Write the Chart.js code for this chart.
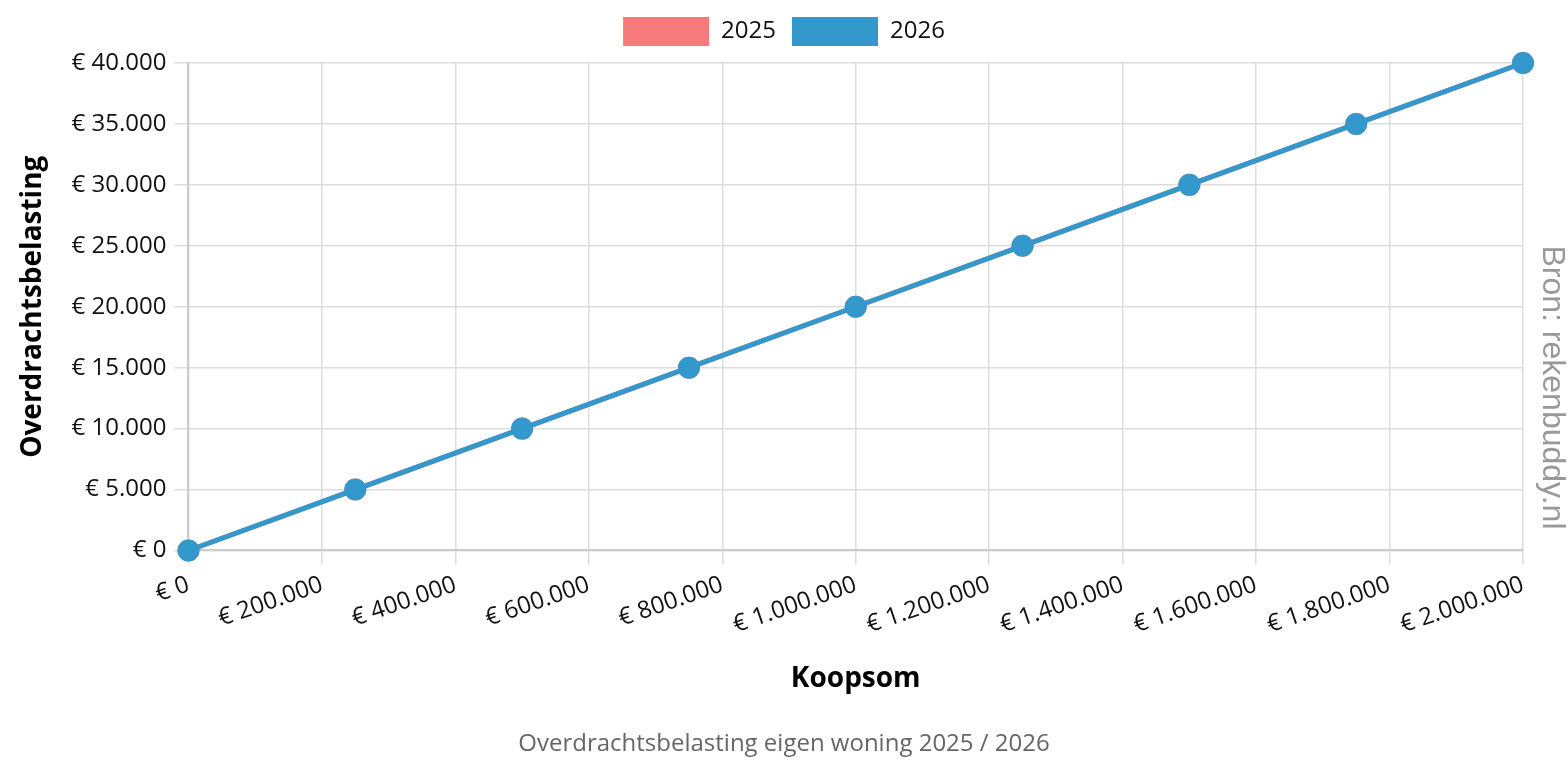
<!DOCTYPE html>
<html>
<head>
<meta charset="utf-8">
<script src="https://cdn.jsdelivr.net/npm/chart.js@4"></script>
<style>
  html, body { margin: 0; padding: 0; background: #fff; }
  canvas { display: block; }
</style>
</head>
<body>
<canvas id="chart" width="1568" height="784"></canvas>
<script>
// Koopsom (x) en overdrachtsbelasting (y) per jaar
const koopsom = [0, 250000, 500000, 750000, 1000000, 1250000, 1500000, 1750000, 2000000];
const belasting2025 = [0, 5000, 10000, 15000, 20000, 25000, 30000, 35000, 40000];
const belasting2026 = [0, 5000, 10000, 15000, 20000, 25000, 30000, 35000, 40000];
const seriesLabels = ['2025', '2026'];

const red = 'rgb(246, 122, 122)';
const blue = 'rgb(51, 153, 204)';

function euro(v) {
    let s = Math.round(v).toString().replace(/\B(?=(\d{3})+(?!\d))/g, '.');
    return '€ ' + s;
}

function toPoints(xs, ys) {
    return xs.map((x, i) => ({ x: x, y: ys[i] }));
}

// a bit more room between legend and plot
const legendMargin = {
    id: 'legendMargin',
    beforeInit(chart) {
        const fit = chart.legend.fit;
        chart.legend.fit = function () {
            fit.call(this);
            this.height += 7;
        };
    }
};

Chart.defaults.font.family = "'Open Sans', sans-serif";
Chart.defaults.font.size = 24;
Chart.defaults.color = '#111';

new Chart(document.getElementById('chart'), {
    type: 'line',
    data: {
        datasets: [{
            label: seriesLabels[0],
            data: toPoints(koopsom, belasting2025),
            borderColor: red,
            backgroundColor: red,
            borderWidth: 5,
            pointRadius: 10,
            pointHoverRadius: 10,
            pointBorderWidth: 2,
            clip: false,
            order: 1
        }, {
            label: seriesLabels[1],
            data: toPoints(koopsom, belasting2026),
            borderColor: blue,
            backgroundColor: blue,
            borderWidth: 5,
            pointRadius: 10,
            pointHoverRadius: 10,
            pointBorderWidth: 2,
            clip: false,
            order: 0
        }]
    },
    options: {
        responsive: false,
        devicePixelRatio: 1,
        animation: false,
        layout: { padding: { left: 0, right: 0, top: 1, bottom: 10 } },
        plugins: {
            legend: {
                labels: {
                    boxWidth: 86,
                    boxHeight: 29,
                    padding: 16,
                    font: { size: 24 },
                    sort: (a, b) => a.datasetIndex - b.datasetIndex,
                    generateLabels(chart) {
                        const items = Chart.defaults.plugins.legend.labels.generateLabels(chart);
                        items.forEach(it => { it.lineWidth = 0; });
                        return items;
                    }
                }
            },
            title: {
                display: true,
                text: 'Overdrachtsbelasting eigen woning 2025 / 2026',
                position: 'bottom',
                color: '#666',
                font: { size: 24, weight: 'normal' },
                padding: { top: 34, bottom: 15 }
            },
            subtitle: {
                display: true,
                text: 'Bron: rekenbuddy.nl',
                position: 'right',
                color: '#999',
                font: { family: "'Liberation Sans', Arial, sans-serif", size: 32, weight: 'normal', lineHeight: 1 },
                padding: { top: 0, bottom: 13 }
            },
            tooltip: { enabled: false }
        },
        scales: {
            x: {
                type: 'linear',
                min: 0,
                max: 2000000,
                ticks: {
                    stepSize: 200000,
                    minRotation: 19,
                    maxRotation: 19,
                    padding: 6,
                    callback: v => euro(v)
                },
                grid: { color: '#ddd', lineWidth: 1.5, tickLength: 14 },
                border: { color: '#ccc', width: 2 },
                title: {
                    display: true,
                    text: 'Koopsom',
                    font: { size: 28, weight: 'bold' },
                    color: '#000',
                    padding: { top: 17, bottom: 0 }
                }
            },
            y: {
                min: 0,
                max: 40000,
                ticks: {
                    stepSize: 5000,
                    padding: 8,
                    callback: v => euro(v)
                },
                grid: { color: '#ddd', lineWidth: 1.5, tickLength: 14 },
                border: { color: '#ccc', width: 2 },
                title: {
                    display: true,
                    text: 'Overdrachtsbelasting',
                    font: { size: 28, weight: 'bold' },
                    color: '#000',
                    padding: { top: 16, bottom: 14 }
                }
            }
        }
    },
    plugins: [legendMargin]
});
</script>
</body>
</html>
